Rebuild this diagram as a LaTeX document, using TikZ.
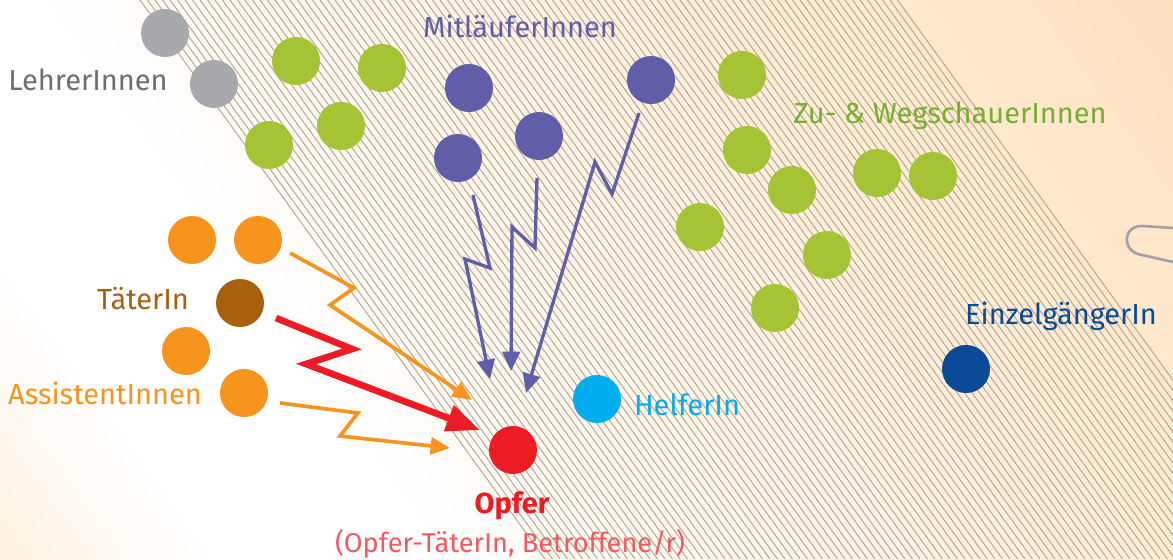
\documentclass[tikz,border=0pt]{standalone}
\usepackage{fontspec}
\setmainfont{Fira Sans}
\usepackage{xcolor}
\usetikzlibrary{arrows.meta}

\definecolor{pfirsich}{HTML}{FDDCB3}
\colorlet{pfirsichA}{pfirsich!85!white}
\colorlet{pfirsichB}{pfirsich!35!white}
\definecolor{linie}{HTML}{B9A388}
\definecolor{klammer}{HTML}{9EA2A7}
\definecolor{grau}{HTML}{A7A9AC}
\definecolor{grautext}{HTML}{6D6E71}
\definecolor{gruen}{HTML}{A4C435}
\definecolor{gruentext}{HTML}{7AAD32}
\definecolor{lila}{HTML}{615EA9}
\definecolor{orange}{HTML}{F7941E}
\definecolor{braun}{HTML}{A8600F}
\definecolor{rot}{HTML}{ED1C24}
\definecolor{rotlicht}{HTML}{F15A60}
\definecolor{hellblau}{HTML}{00AEEF}
\definecolor{dunkelblau}{HTML}{0B4A97}

\pgfdeclarehorizontalshading{hintergrund}{100bp}{color(0bp)=(pfirsichA); color(28bp)=(pfirsichB); color(34bp)=(white); color(40bp)=(white); color(80bp)=(pfirsich); color(100bp)=(pfirsich)}

\begin{document}
\begin{tikzpicture}[x=0.02cm, y=-0.02cm,
  punkt/.style={circle, inner sep=0pt, minimum size=0.96cm},
  etikett/.style={inner sep=0pt, anchor=base, font=\fontsize{16.5}{18}\selectfont},
  schraffur/.style={draw=linie, line width=0.55pt},
  pfeil/.style={line width=2.1pt, line join=miter, -{Triangle[length=11pt,width=9.5pt]}}]
  \useasboundingbox (0,0) rectangle (1173,559);

  % Hintergrund
  \fill[pfirsich] (0,0) rectangle (1173,559);
  \begin{scope}[overlay]
    \clip (0,0) rectangle (1173,559);
    \begin{scope}[transform canvas={rotate=35.9}]
      \shade[shading=hintergrund] (-400,-1500) rectangle (1000,1500);
    \end{scope}
  \end{scope}

  % Schraffur
  \begin{scope}
    \clip (0,0) rectangle (1173,559);
    \foreach \i in {0,...,101}
      \draw[schraffur] ({140+7.5*\i},0) -- ++(405,559);
  \end{scope}

  % Büroklammer
  \draw[klammer, line width=1.5pt, line cap=round] (1173,228) -- (1143,226) .. controls (1122,225) and (1121,252) .. (1142,255) -- (1173,262);

  % Kreise
  \node[punkt, fill=grau] (g1) at (165,33) {};    % LehrerInnen
  \node[punkt, fill=grau] (g2) at (214,84) {};
  \node[punkt, fill=gruen] (z1) at (296,61) {};   % Zu- & WegschauerInnen
  \node[punkt, fill=gruen] (z2) at (382,68) {};
  \node[punkt, fill=gruen] (z3) at (269,145) {};
  \node[punkt, fill=gruen] (z4) at (341,126) {};
  \node[punkt, fill=gruen] (z5) at (742,75) {};
  \node[punkt, fill=gruen] (z6) at (747,150) {};
  \node[punkt, fill=gruen] (z7) at (792,190) {};
  \node[punkt, fill=gruen] (z8) at (877,173) {};
  \node[punkt, fill=gruen] (z9) at (933,176) {};
  \node[punkt, fill=gruen] (z10) at (700,227) {};
  \node[punkt, fill=gruen] (z11) at (827,255) {};
  \node[punkt, fill=gruen] (z12) at (775,308) {};
  \node[punkt, fill=lila] (m1) at (469,88) {};    % MitläuferInnen
  \node[punkt, fill=lila] (m2) at (539,136) {};
  \node[punkt, fill=lila] (m3) at (458,158) {};
  \node[punkt, fill=lila] (m4) at (651,80) {};
  \node[punkt, fill=orange] (a1) at (192,240) {}; % AssistentInnen
  \node[punkt, fill=orange] (a2) at (258,240) {};
  \node[punkt, fill=orange] (a3) at (186,351) {};
  \node[punkt, fill=orange] (a4) at (244,393) {};
  \node[punkt, fill=braun] (t) at (240,303) {};   % TäterIn
  \node[punkt, fill=rot] (o) at (513,450) {};     % Opfer
  \node[punkt, fill=hellblau] (h) at (597,399) {};   % HelferIn
  \node[punkt, fill=dunkelblau] (e) at (966,369) {}; % EinzelgängerIn

  % Beschriftungen
  \node[etikett, text=grautext] (lg) at (88,90) {LehrerInnen};
  \node[etikett, text=lila] (lm) at (520,37) {MitläuferInnen};
  \node[etikett, text=gruentext] (lz) at (950,123) {Zu- \& WegschauerInnen};
  \node[etikett, text=braun] (lt) at (143,309) {TäterIn};
  \node[etikett, text=orange] (la) at (105,404) {AssistentInnen};
  \node[etikett, text=hellblau] (lh) at (687,415) {HelferIn};
  \node[etikett, text=dunkelblau] (le) at (1061,324) {EinzelgängerIn};
  \node[etikett, text=rot, font=\fontsize{16.5}{18}\selectfont\bfseries] (lo) at (512,513) {Opfer};
  \node[etikett, text=rotlicht, font=\fontsize{15.5}{18}\selectfont] (lb) at (510,552) {(Opfer-TäterIn, Betroffene/r)};

  % Knickpunkte
  \coordinate (p1a) at (290,253);  \coordinate (p1b) at (354,288);
  \coordinate (p1c) at (330,305);  \coordinate (p1d) at (472,400);
  \coordinate (p2a) at (280,403);  \coordinate (p2b) at (358,413);
  \coordinate (p2c) at (340,436);  \coordinate (p2d) at (450,448);
  \coordinate (p3a) at (276,318);  \coordinate (p3b) at (352,349);
  \coordinate (p3c) at (306,364);  \coordinate (p3d) at (480,430);
  \coordinate (q1a) at (473,195);  \coordinate (q1b) at (490,268);
  \coordinate (q1c) at (465,259);  \coordinate (q1d) at (490,379);
  \coordinate (q2a) at (537,178);  \coordinate (q2b) at (535,248);
  \coordinate (q2c) at (512,227);  \coordinate (q2d) at (511,371);
  \coordinate (q3a) at (639,113);  \coordinate (q3b) at (612,194);
  \coordinate (q3c) at (595,162);  \coordinate (q3d) at (526,393);

  % Pfeile
  \draw[pfeil, orange] (p1a) -- (p1b) -- (p1c) -- (p1d);
  \draw[pfeil, orange] (p2a) -- (p2b) -- (p2c) -- (p2d);
  \draw[pfeil, rot, line width=3.8pt, -{Triangle[length=19pt,width=15pt]}] (p3a) -- (p3b) -- (p3c) -- (p3d);
  \draw[pfeil, lila, line width=1.9pt, -{Triangle[length=11pt,width=10pt]}] (q1a) -- (q1b) -- (q1c) -- (q1d);
  \draw[pfeil, lila, line width=1.9pt, -{Triangle[length=11pt,width=10pt]}] (q2a) -- (q2b) -- (q2c) -- (q2d);
  \draw[pfeil, lila, line width=1.9pt, -{Triangle[length=11pt,width=10pt]}] (q3a) -- (q3b) -- (q3c) -- (q3d);
\end{tikzpicture}
\end{document}
